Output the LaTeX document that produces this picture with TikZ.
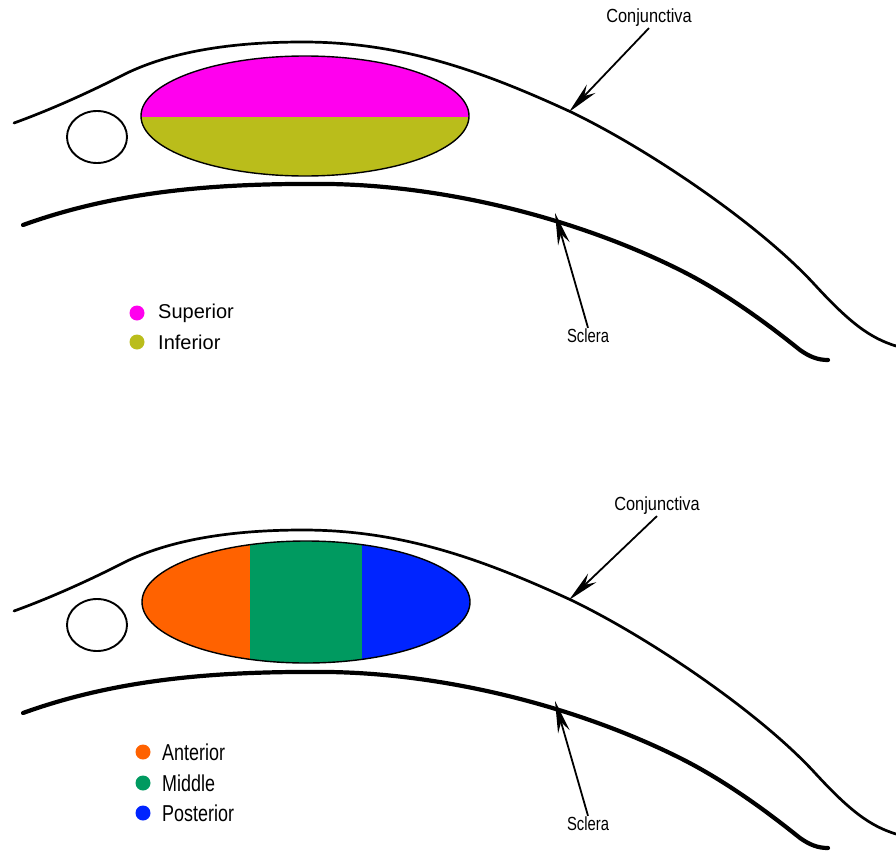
\documentclass[tikz,border=0pt]{standalone}
\usepackage{fontspec}
\usepackage{graphicx}
\setmainfont{Liberation Sans}
\usetikzlibrary{arrows.meta}

\definecolor{supcol}{RGB}{255,0,238}
\definecolor{infcol}{RGB}{186,189,27}
\definecolor{antcol}{RGB}{255,98,0}
\definecolor{midcol}{RGB}{0,154,96}
\definecolor{poscol}{RGB}{0,36,255}

\begin{document}
\begin{tikzpicture}
    [   x=1pt,y=-1pt,
        conj/.style={line width=2.7pt,line cap=round},
        scler/.style={line width=4.2pt,line cap=round},
        pointer/.style={line width=1.8pt,-{Stealth[length=32pt,width=12pt,inset=10pt]}},
        lbl/.style={font=\fontsize{19}{19}\selectfont,inner sep=1pt},
        keydot/.style={circle,fill=#1,minimum size=15pt,inner sep=0pt},
        keytext/.style={anchor=west,inner sep=0pt},
    ]
    \useasboundingbox (0,0) rectangle (896,851);

    % lid, sclera, small gland and pointers, once for each panel
    \foreach \dy/\k/\dx in {0/1/0,488/2/8}
    {   \begin{scope}[shift={(0,\dy)}]
            \draw[conj] (14,123) .. controls (50,110) and (90,92) .. (125,74)
                .. controls (170,52) and (230,42) .. (303,42)
                .. controls (400,42) and (480,70) .. (571,112)
                .. controls (650,150) and (760,225) .. (815,285)
                .. controls (850,323) and (870,338) .. (896,346);
            \draw[scler] (23,225) .. controls (120,190) and (220,183) .. (330,184)
                .. controls (450,186) and (580,220) .. (680,270)
                .. controls (730,295) and (775,330) .. (800,350)
                .. controls (810,357) and (818,360) .. (828,360);
            \draw[line width=1.9pt] (97,137) ellipse [x radius=30,y radius=26];

            \node[lbl] (conj-\k) at (649+\dx,18) {\scalebox{0.86}[1]{Conjunctiva}};
            \coordinate (conjtip-\k) at (569,112);
            \draw[pointer] (conj-\k.south) -- (conjtip-\k);

            \node[lbl] (scl-\k) at (588,336) {\scalebox{0.78}[1]{Sclera}};
            \coordinate (scltip-\k) at (555,213);
            \draw[pointer] (scl-\k.north) -- (scltip-\k);
        \end{scope}
    }

    % upper panel: superior / inferior halves
    \begin{scope}
        \clip (130,40) rectangle (480,117);
        \fill[supcol] (305,116) ellipse [x radius=164,y radius=60];
    \end{scope}
    \begin{scope}
        \clip (130,117) rectangle (480,190);
        \fill[infcol] (305,116) ellipse [x radius=164,y radius=60];
    \end{scope}
    \draw[line width=1.4pt] (305,116) ellipse [x radius=164,y radius=60];

    % lower panel: anterior / middle / posterior thirds
    \begin{scope}
        \clip (306,602) ellipse [x radius=164,y radius=61];
        \fill[antcol] (140,540) rectangle (250,665);
        \fill[midcol] (250,540) rectangle (362,665);
        \fill[poscol] (362,540) rectangle (472,665);
    \end{scope}
    \draw[line width=1.4pt] (306,602) ellipse [x radius=164,y radius=61];

    % keys
    \foreach \c/\t/\y in {supcol/Superior/313,infcol/Inferior/342}
    {   \node[keydot=\c] (dot-\t) at (137,\y) {};
        \node[keytext,font=\fontsize{20}{20}\selectfont] (key-\t) at (158,\y) {\t};
    }
    \foreach \c/\t/\y in {antcol/Anterior/752,midcol/Middle/783,poscol/Posterior/813}
    {   \node[keydot=\c] (dot-\t) at (143,\y) {};
        \node[keytext,font=\fontsize{23}{23}\selectfont] (key-\t) at (162,\y) {\scalebox{0.78}[1]{\t}};
    }
\end{tikzpicture}
\end{document}
